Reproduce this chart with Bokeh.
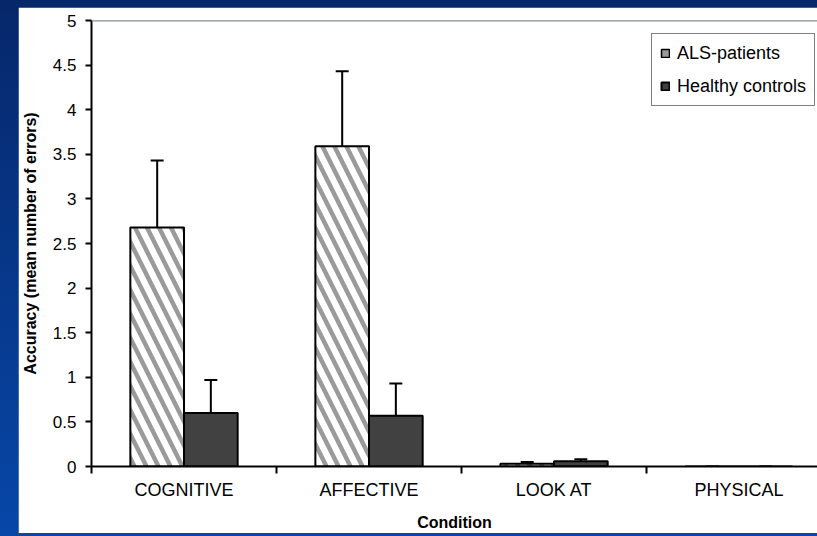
from bokeh.embed import file_html
from bokeh.layouts import column
from bokeh.models import FixedTicker, Range1d, Span
from bokeh.plotting import figure
from bokeh.resources import INLINE

# Mean number of errors per condition, with the upper error bar length
conditions = ["COGNITIVE", "AFFECTIVE", "LOOK AT", "PHYSICAL"]
als_mean = [2.68, 3.59, 0.03, 0.0]
als_err = [0.75, 0.84, 0.02, 0.0]
ctrl_mean = [0.60, 0.57, 0.06, 0.0]
ctrl_err = [0.37, 0.36, 0.02, 0.0]
series_names = ["ALS-patients", "Healthy controls"]

y_ticks = [0, 0.5, 1, 1.5, 2, 2.5, 3, 3.5, 4, 4.5, 5]
y_tick_labels = ["0", "0.5", "1", "1.5", "2", "2.5", "3", "3.5", "4", "4.5", "5"]

FONT = "Liberation Sans"
BAR_W = 0.29
CAP = 0.035
HATCH = dict(hatch_pattern="\\", hatch_color="#9a9a9a", hatch_weight=4.5)

centers = [i + 0.5 for i in range(len(conditions))]
als_x = [c - BAR_W / 2 for c in centers]
ctrl_x = [c + BAR_W / 2 for c in centers]

p = figure(
    width=799, height=526,
    x_range=Range1d(0, 3.924), y_range=Range1d(0, 5),
    output_backend="svg", toolbar_location=None,
    min_border_left=73, min_border_right=0, min_border_top=13, min_border_bottom=66,
    background_fill_color="white", border_fill_color="white",
    outline_line_color=None,
)
p.margin = (7, 0, 3, 18)
p.grid.visible = False

# top border of the plot area
p.add_layout(Span(location=5, dimension="width", line_color="#8c8c8c", line_width=2))

# hidden copy of the patients bars, used only for its finer-hatched legend swatch
p.vbar(x=als_x, top=als_mean, bottom=0, width=BAR_W, fill_color="white",
       line_color="black", line_width=1.5, hatch_scale=7, visible=False,
       legend_label=series_names[0], **HATCH)

p.vbar(x=als_x, top=als_mean, bottom=0, width=BAR_W,
       fill_color="white", line_color="black", line_width=2, hatch_scale=24, **HATCH)
p.vbar(x=ctrl_x, top=ctrl_mean, bottom=0, width=BAR_W,
       fill_color="#414141", line_color="black", line_width=2,
       legend_label=series_names[1])

# upper error bars with caps
for xs, m, e in ((als_x, als_mean, als_err), (ctrl_x, ctrl_mean, ctrl_err)):
    tops = [a + b for a, b in zip(m, e)]
    p.segment(x0=xs, y0=m, x1=xs, y1=tops, line_color="black", line_width=2)
    p.segment(x0=[x - CAP for x in xs], y0=tops, x1=[x + CAP for x in xs], y1=tops,
              line_color="black", line_width=2)

# x axis: category names at group centres, ticks at group boundaries
xa = p.xaxis[0]
xa.ticker = FixedTicker(ticks=centers, minor_ticks=list(range(len(conditions) + 1)))
xa.major_label_overrides = {c: n for c, n in zip(centers, conditions)}
xa.major_tick_out = 0
xa.major_tick_in = 0
xa.major_tick_line_color = None
xa.minor_tick_out = 7
xa.minor_tick_in = 0
xa.minor_tick_line_width = 2
xa.minor_tick_line_color = "black"
xa.axis_line_width = 2
xa.axis_line_color = "black"
xa.major_label_standoff = 6
xa.major_label_text_font = FONT
xa.major_label_text_font_size = "18px"
xa.major_label_text_color = "black"
xa.axis_label = "Condition"
xa.axis_label_standoff = 11
xa.axis_label_text_font = FONT
xa.axis_label_text_font_style = "bold"
xa.axis_label_text_font_size = "16px"
xa.axis_label_text_color = "black"

ya = p.yaxis[0]
ya.ticker = FixedTicker(ticks=y_ticks)
ya.major_label_overrides = {t: s for t, s in zip(y_ticks, y_tick_labels)}
ya.major_tick_out = 6
ya.major_tick_in = 0
ya.minor_tick_out = 0
ya.minor_tick_in = 0
ya.major_tick_line_width = 2
ya.major_tick_line_color = "black"
ya.axis_line_width = 2
ya.axis_line_color = "black"
ya.major_label_standoff = 9
ya.major_label_text_baseline = "alphabetic"
ya.major_label_text_font = FONT
ya.major_label_text_font_size = "17px"
ya.major_label_text_color = "black"
ya.axis_label = "Accuracy (mean number of errors)"
ya.axis_label_standoff = 11
ya.axis_label_text_font = FONT
ya.axis_label_text_font_style = "bold"
ya.axis_label_text_font_size = "16px"
ya.axis_label_text_color = "black"

lg = p.legend[0]
lg.location = (560, 360)
lg.label_text_font = FONT
lg.label_text_font_size = "18px"
lg.label_text_color = "black"
lg.glyph_width = 10
lg.glyph_height = 10
lg.label_standoff = 7
lg.label_height = 22
lg.padding = 8
lg.spacing = 11
lg.margin = 0
lg.border_line_color = "black"
lg.border_line_width = 1.5
lg.background_fill_alpha = 1
lg.inactive_fill_alpha = 0

page = column(p, styles={"background": "linear-gradient(180deg, #06276a 0%, #0747a8 100%)"})

open("out.html", "w").write(file_html(page, INLINE))
